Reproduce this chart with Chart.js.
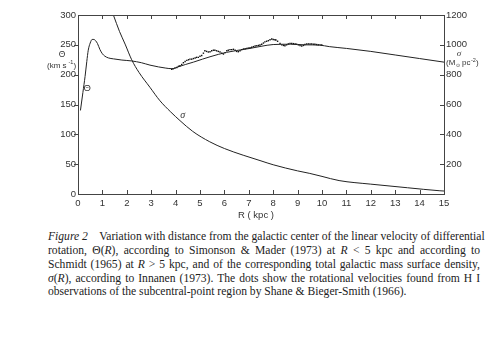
<!DOCTYPE html>
<html>
<head>
<meta charset="utf-8">
<script src="https://cdn.jsdelivr.net/npm/chart.js@4.4.0/dist/chart.umd.min.js"></script>
<style>
    body { margin: 0; background: #fff; width: 500px; height: 338px; overflow: hidden; position: relative; }
    #chartBox { position: absolute; left: 0; top: 0; width: 500px; height: 226px; }
    #caption { position: absolute; left: 48px; top: 230px; width: 432px; font-family: "Liberation Serif", "DejaVu Serif", serif; font-size: 11.6px; line-height: 13.85px; color: #222; }
    #caption div { text-align: justify; text-align-last: justify; white-space: nowrap; }
    #caption div.last { text-align-last: left; }
</style>
</head>
<body>
<div id="chartBox"><canvas id="myChart" width="500" height="226"></canvas></div>
<div id="caption">
    <div><i>Figure 2</i>&nbsp;&nbsp;&nbsp; Variation with distance from the galactic center of the linear velocity of differential</div>
    <div>rotation, &Theta;(<i>R</i>), according to Simonson &amp; Mader (1973) at <i>R</i> &lt; 5 kpc and according to</div>
    <div>Schmidt (1965) at <i>R</i> &gt; 5 kpc, and of the corresponding total galactic mass surface density,</div>
    <div><i>&sigma;</i>(<i>R</i>), according to Innanen (1973). The dots show the rotational velocities found from H I</div>
    <div class="last">observations of the subcentral-point region by Shane &amp; Bieger-Smith (1966).</div>
</div>
<script>
// rotation curve Theta(R), km/s
var thetaR = [0.1, 0.2, 0.29, 0.36, 0.42, 0.5, 0.58, 0.65, 0.72, 0.8, 0.9, 1.0, 1.1, 1.25, 1.45, 1.8, 2.2, 2.6, 2.95, 3.3, 3.6, 3.85, 4.1, 4.4, 4.73, 5.1, 5.41, 5.75, 6.09, 6.5, 7.05, 7.5, 8.0, 8.7, 9.3, 9.9, 10.3, 11, 12, 13, 14, 15];
var thetaV = [140, 170, 197, 222, 241, 253, 259, 259, 257, 252, 242, 235, 231, 228, 226.5, 224.5, 223, 220, 216, 213, 211, 210, 213, 217, 221, 226, 230, 234, 237.4, 240.5, 244, 247.5, 250.5, 251, 250, 249.5, 247, 244, 239, 233, 227, 221];

// mass surface density sigma(R), Msun/pc^2
var sigmaR = [1.45, 1.7, 1.93, 2.2, 2.5, 2.95, 3.36, 3.8, 4.18, 4.7, 5.4, 6.0, 6.77, 7.5, 8.0, 9.0, 9.5, 10.0, 10.7, 12.0, 13.5, 14.8, 15];
var sigmaV = [1200, 1090, 1005, 900, 815, 715, 625, 550, 492, 420, 350, 305, 260, 222, 196, 155, 138, 118, 90, 66, 42, 22, 20];

// Shane & Bieger-Smith (1966) dots
var dotR = [3.84, 3.9, 3.97, 4.05, 4.12, 4.18, 4.25, 4.32, 4.39, 4.46, 4.53, 4.59, 4.66, 4.73, 4.8, 4.86, 4.93, 5.0, 5.07, 5.14, 5.2, 5.27, 5.34, 5.41, 5.48, 5.55, 5.61, 5.68, 5.75, 5.82, 5.89, 5.96, 6.03, 6.1, 6.16, 6.23, 6.3, 6.37, 6.44, 6.5, 6.57, 6.64, 6.71, 6.78, 6.85, 6.92, 6.98, 7.05, 7.12, 7.19, 7.26, 7.33, 7.4, 7.46, 7.53, 7.6, 7.66, 7.73, 7.8, 7.87, 7.94, 8.0, 8.07, 8.11, 8.18, 8.28, 8.35, 8.42, 8.48, 8.55, 8.62, 8.69, 8.76, 8.83, 8.9, 8.96, 9.03, 9.1, 9.17, 9.24, 9.3, 9.37, 9.44, 9.51, 9.58, 9.65, 9.71, 9.78, 9.85, 9.92, 9.99];
var dotV = [209, 210, 211, 212, 214, 215, 217, 220, 222, 224, 225, 226, 226, 227, 228, 229, 229, 231, 232, 236, 240, 239, 238, 238.5, 240, 241, 241, 240, 239, 238, 236, 234.6, 237, 240, 241, 242, 242, 242.5, 241, 239, 238.5, 240, 242, 243, 243.5, 244, 244.5, 245, 246, 247, 248, 248.5, 249, 249.7, 251, 253, 255, 256, 257, 258.5, 259.8, 259, 258.5, 258, 256, 252.5, 250, 249, 248.5, 250, 251.5, 252.5, 252.5, 252, 251.5, 251, 250, 249, 248, 249, 250.5, 251.4, 251.5, 251.5, 251.3, 251, 251, 250.5, 250, 250, 249.7];

var xTicks = [0, 1, 2, 3, 4, 5, 6, 7, 8, 9, 10, 11, 12, 13, 14, 15];

function pairs(xs, ys) {
    var out = [];
    for (var i = 0; i < xs.length; i++) out.push({ x: xs[i], y: ys[i] });
    return out;
}

var ink = '#333';
var sans = 'Liberation Sans, Arial, sans-serif';
var font = { family: sans, size: 9.5 };

// frame, ticks and the hand lettering of the figure
var figurePlugin = {
    id: 'figure',
    afterDraw: function (chart) {
        var ctx = chart.ctx;
        var a = chart.chartArea;
        var x = chart.scales.x, y = chart.scales.y, y2 = chart.scales.y2;
        ctx.save();
        ctx.strokeStyle = '#444';
        ctx.lineWidth = 1;
        ctx.strokeRect(a.left + 0.5, a.top + 0.5, a.right - a.left, a.bottom - a.top);
        ctx.beginPath();
        xTicks.forEach(function (t) {
            if (t == 0 || t == 15) return;
            var px = Math.round(x.getPixelForValue(t)) + 0.5;
            ctx.moveTo(px, a.bottom); ctx.lineTo(px, a.bottom - 4);
            ctx.moveTo(px, a.top); ctx.lineTo(px, a.top + 4);
        });
        [50, 100, 150, 200, 250].forEach(function (t) {
            var py = Math.round(y.getPixelForValue(t)) + 0.5;
            ctx.moveTo(a.left, py); ctx.lineTo(a.left - 4, py);
        });
        [200, 400, 600, 800, 1000].forEach(function (t) {
            var py = Math.round(y2.getPixelForValue(t)) + 0.5;
            ctx.moveTo(a.right, py); ctx.lineTo(a.right - 4, py);
        });
        ctx.stroke();

        ctx.fillStyle = ink;
        ctx.textBaseline = 'middle';
        // left axis title
        ctx.textAlign = 'center';
        ctx.font = '8.5px ' + sans;
        ctx.fillText('\u0398', 62, 55);
        ctx.textAlign = 'left';
        ctx.font = '8px ' + sans;
        ctx.fillText('(km s', 47, 65.5);
        ctx.font = '5.5px ' + sans;
        ctx.fillText('-1', 68.5, 62.5);
        ctx.font = '8px ' + sans;
        ctx.fillText(')', 73.5, 65.5);

        // right axis title
        ctx.textAlign = 'center';
        ctx.font = 'italic 9px Liberation Serif, serif';
        ctx.fillText('\u03c3', 459, 54);
        ctx.textAlign = 'left';
        ctx.font = '8px ' + sans;
        ctx.fillText('(M', 446, 63);
        ctx.font = '5px ' + sans;
        ctx.fillText('\u2299', 456, 65.5);
        ctx.font = '8px ' + sans;
        ctx.fillText('pc', 462, 63);
        ctx.font = '5.5px ' + sans;
        ctx.fillText('-2', 471, 60);
        ctx.font = '8px ' + sans;
        ctx.fillText(')', 476, 63);

        // bottom axis title
        ctx.textAlign = 'center';
        ctx.font = '9.5px ' + sans;
        ctx.fillText('R ( kpc )', 256, 215);

        // curve labels
        ctx.fillText('\u0398', x.getPixelForValue(0.38), y.getPixelForValue(177));
        ctx.font = 'italic 10px Liberation Serif, serif';
        ctx.fillText('\u03c3', x.getPixelForValue(4.29), y2.getPixelForValue(530));
        ctx.restore();
    }
};

var chart = new Chart(document.getElementById('myChart').getContext('2d'), {
    type: 'scatter',
    data: {
        datasets: [{
            label: 'Theta',
            data: pairs(thetaR, thetaV),
            showLine: true,
            borderColor: '#222',
            borderWidth: 1,
            pointRadius: 0,
            cubicInterpolationMode: 'monotone',
            yAxisID: 'y'
        }, {
            label: 'sigma',
            data: pairs(sigmaR, sigmaV),
            showLine: true,
            borderColor: '#222',
            borderWidth: 1,
            pointRadius: 0,
            cubicInterpolationMode: 'monotone',
            yAxisID: 'y2'
        }, {
            label: 'H I dots',
            data: pairs(dotR, dotV),
            showLine: false,
            pointStyle: 'rect',
            pointRadius: 1,
            backgroundColor: '#111',
            borderColor: '#111',
            borderWidth: 0,
            yAxisID: 'y'
        }]
    },
    options: {
        responsive: false,
        animation: false,
        layout: { padding: { top: 15, left: 0, right: 0, bottom: 0 } },
        plugins: { legend: { display: false }, tooltip: { enabled: false } },
        scales: {
            x: {
                type: 'linear', min: 0, max: 15,
                afterBuildTicks: function (s) { s.ticks = xTicks.map(function (v) { return { value: v }; }); },
                afterFit: function (s) { s.height = 32; },
                grid: { display: false, drawTicks: false },
                border: { display: false },
                ticks: { color: ink, font: font, padding: 4, maxRotation: 0 }
            },
            y: {
                position: 'left', min: 0, max: 300,
                afterFit: function (s) { s.width = 78; },
                grid: { display: false, drawTicks: false },
                border: { display: false },
                ticks: { stepSize: 50, color: ink, font: font, padding: 2 }
            },
            y2: {
                position: 'right', min: 0, max: 1200,
                afterFit: function (s) { s.width = 56; },
                grid: { display: false, drawTicks: false },
                border: { display: false },
                ticks: {
                    stepSize: 200, color: ink, font: font, padding: 2,
                    callback: function (v) { return v == 0 ? '' : v; }
                }
            }
        }
    },
    plugins: [figurePlugin]
});
</script>
</body>
</html>
